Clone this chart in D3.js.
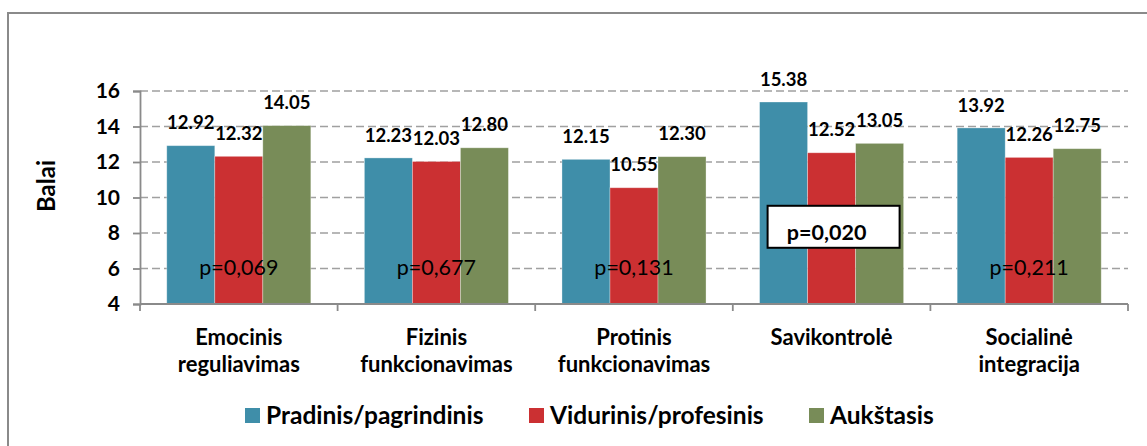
<!DOCTYPE html>
<html>
<head>
<meta charset="utf-8">
<script src="https://cdn.jsdelivr.net/npm/d3@7"></script>
<style>
  html, body { margin: 0; padding: 0; background: #fff; }
  svg { display: block; font-family: Lato, "Open Sans", sans-serif; }
</style>
</head>
<body>
<svg id="chart" width="1147" height="446"></svg>
<script>
const categories = [
  ["Emocinis", "reguliavimas"],
  ["Fizinis", "funkcionavimas"],
  ["Protinis", "funkcionavimas"],
  ["Savikontrolė"],
  ["Socialinė", "integracija"]
];
const seriesNames = ["Pradinis/pagrindinis", "Vidurinis/profesinis", "Aukštasis"];
const pradinis = [12.92, 12.23, 12.15, 15.38, 13.92];
const vidurinis = [12.32, 12.03, 10.55, 12.52, 12.26];
const aukstasis = [14.05, 12.80, 12.30, 13.05, 12.75];
const pValues = ["p=0,069", "p=0,677", "p=0,131", "p=0,020", "p=0,211"];
const pSignificant = [false, false, false, true, false];
const yTicks = [4, 6, 8, 10, 12, 14, 16];
const colors = ["#3f8ea9", "#cb3032", "#788c58"];

const seriesValues = [pradinis, vidurinis, aukstasis];
const svg = d3.select("#chart");

// outer frame (only top/left visible)
svg.append("rect").attr("x", 8).attr("y", 13).attr("width", 1300).attr("height", 600)
  .attr("fill", "none").attr("stroke", "#8a8a8a").attr("stroke-width", 2);

const plotLeft = 140, plotRight = 1128, plotTop = 91, plotBottom = 304;
const catIdx = d3.range(categories.length);
const y = d3.scaleLinear().domain([4, 16]).range([plotBottom, plotTop]);
const x0 = d3.scaleBand().domain(catIdx).range([plotLeft, plotRight]).paddingInner(0.271).paddingOuter(0.1355);
const x1 = d3.scaleBand().domain(d3.range(seriesNames.length)).range([0, x0.bandwidth()]);
const step = x0.step();
const boundaries = catIdx.map(i => x0(i) - step * 0.271 / 2).concat([plotRight]);

// gridlines
const g = svg.append("g");
g.selectAll("line.grid").data(yTicks.filter(t => t > 4)).join("line")
  .attr("class", "grid")
  .attr("x1", plotLeft).attr("x2", plotRight)
  .attr("y1", d => y(d)).attr("y2", d => y(d))
  .attr("stroke", "#a0a0a0").attr("stroke-width", 1.5).attr("stroke-dasharray", "8,4");

// bars
catIdx.forEach(ci => {
  seriesValues.forEach((vals, si) => {
    const v = vals[ci];
    g.append("rect")
      .attr("x", x0(ci) + x1(si))
      .attr("y", y(v))
      .attr("width", x1.bandwidth())
      .attr("height", y(4) - y(v))
      .attr("fill", colors[si])
      .attr("stroke", "#ffffff").attr("stroke-opacity", 0.4).attr("stroke-width", 0.8);
  });
});

// y axis
const yAxis = d3.axisLeft(y).tickValues(yTicks).tickSize(7).tickPadding(13).tickFormat(d3.format("d"));
const ya = svg.append("g").attr("transform", `translate(${plotLeft},0)`).call(yAxis);
ya.select(".domain").attr("stroke", "#8a8a8a").attr("stroke-width", 1.8);
ya.selectAll(".tick line").attr("stroke", "#8a8a8a").attr("stroke-width", 1.8);
ya.selectAll(".tick text").attr("font-family", "Lato").attr("font-weight", "bold")
  .attr("font-size", 21).attr("fill", "#000");

// x axis baseline and ticks
svg.append("line").attr("x1", plotLeft).attr("x2", plotRight).attr("y1", plotBottom).attr("y2", plotBottom)
  .attr("stroke", "#8a8a8a").attr("stroke-width", 1.8);
svg.selectAll("line.xtick").data(boundaries).join("line").attr("class", "xtick")
  .attr("x1", d => d).attr("x2", d => d).attr("y1", plotBottom).attr("y2", plotBottom + 7)
  .attr("stroke", "#8a8a8a").attr("stroke-width", 1.8);

// category labels
catIdx.forEach(ci => {
  const cx = x0(ci) + x0.bandwidth() / 2;
  const t = svg.append("text").attr("x", cx).attr("y", 337).attr("dy", "0.36em")
    .attr("text-anchor", "middle").attr("font-weight", "bold").attr("font-size", 22).attr("fill", "#000");
  categories[ci].forEach((line, li) => {
    t.append("tspan").attr("x", cx).attr("dy", li === 0 ? "0.36em" : 27).text(line);
  });
});

// value labels
catIdx.forEach(ci => {
  seriesValues.forEach((vals, si) => {
    const v = vals[ci];
    svg.append("text")
      .attr("x", x0(ci) + x1(si) + x1.bandwidth() / 2)
      .attr("y", y(v) - 23)
      .attr("dy", "0.36em")
      .attr("text-anchor", "middle").attr("font-weight", "bold").attr("font-size", 18.5).attr("fill", "#000")
      .text(v.toFixed(2));
  });
});

// p-value labels
catIdx.forEach(ci => {
  const cx = x0(ci) + x0.bandwidth() / 2;
  if (pSignificant[ci]) {
    const bw = 132, bh = 42;
    const cy = y(8.35);
    svg.append("rect").attr("x", cx - bw / 2 + 2).attr("y", cy - bh / 2)
      .attr("width", bw).attr("height", bh)
      .attr("fill", "#fff").attr("stroke", "#000").attr("stroke-width", 2);
    svg.append("text").attr("x", cx - 5).attr("y", cy + 5).attr("dy", "0.36em")
      .attr("text-anchor", "middle").attr("font-weight", "bold").attr("font-size", 21.5).attr("fill", "#000")
      .text(pValues[ci]);
  } else {
    svg.append("text").attr("x", cx).attr("y", y(6.05)).attr("dy", "0.36em")
      .attr("text-anchor", "middle").attr("font-size", 21.5).attr("fill", "#000")
      .text(pValues[ci]);
  }
});

// y axis title
svg.append("text").attr("transform", `translate(46,186) rotate(-90)`).attr("dy", "0.36em")
  .attr("text-anchor", "middle").attr("font-weight", "bold").attr("font-size", 24).attr("fill", "#000")
  .text("Balai");

// legend
const legendX = [245, 529, 809];
seriesNames.forEach((name, si) => {
  svg.append("rect").attr("x", legendX[si]).attr("y", 408).attr("width", 15).attr("height", 15)
    .attr("fill", colors[si]);
  svg.append("text").attr("x", legendX[si] + 21).attr("y", 415.5).attr("dy", "0.36em")
    .attr("font-weight", "bold").attr("font-size", 24.5).attr("fill", "#000").text(name);
});
</script>
</body>
</html>
